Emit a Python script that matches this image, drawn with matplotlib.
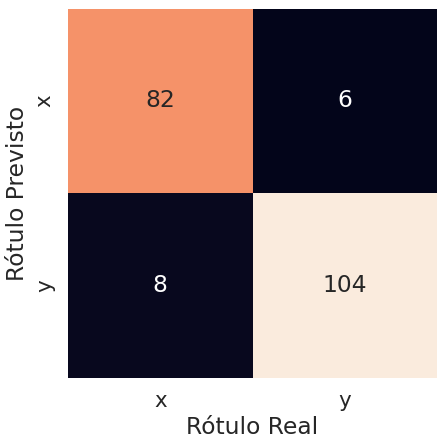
import matplotlib
matplotlib.use("Agg")
import matplotlib.pyplot as plt
import seaborn as sns
import numpy as np

matrix = [[82, 6], [8, 104]]
labels = ["x", "y"]

sns.set_theme(font_scale=1.4)
fig = plt.figure(figsize=(4.47, 4.47), dpi=100)
ax = fig.add_axes([68/447, 1-378/447, 369/447, 370/447])
sns.heatmap(np.array(matrix), annot=True, fmt="d", cbar=False, square=True,
            xticklabels=labels, yticklabels=labels, ax=ax)
ax.set_xlabel("Rótulo Real")
ax.set_ylabel("Rótulo Previsto")
fig.savefig("out.png", dpi=100)
